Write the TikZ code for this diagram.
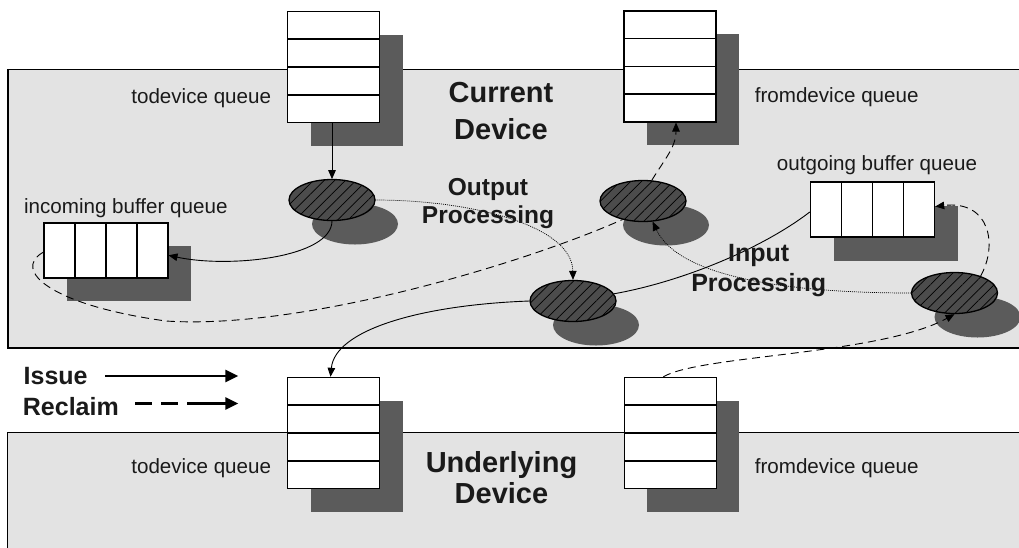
\documentclass[tikz,border=0pt]{standalone}
\usepackage{fontspec}
\setmainfont{Liberation Sans}
\usetikzlibrary{arrows.meta,shadows,patterns.meta,calc,shapes.geometric}
\definecolor{boxgray}{HTML}{E3E3E3}
\definecolor{shadowgray}{HTML}{5B5B5B}
\definecolor{ellgray}{HTML}{4C4C4C}
\definecolor{txt}{HTML}{1A1A1A}
\begin{document}
\begin{tikzpicture}[x=1pt,y=-1pt,
  devbox/.style={fill=boxgray, draw=black, line width=1.3pt},
  vqueue/.style={rectangle, draw, line width=1.4pt, fill=white,
    minimum width=92pt, minimum height=111pt, inner sep=0pt,
    general shadow={shadow xshift=23pt, shadow yshift=-23pt, fill=shadowgray},
    path picture={\foreach \f in {0.25,0.5,0.75}{\draw[line width=1.6pt]
      ($(path picture bounding box.north west)!\f!(path picture bounding box.south west)$) --
      ($(path picture bounding box.north east)!\f!(path picture bounding box.south east)$);}}},
  hqueue/.style={rectangle, draw, line width=1.4pt, fill=white,
    minimum width=124pt, minimum height=55pt, inner sep=0pt,
    general shadow={shadow xshift=23pt, shadow yshift=-23.5pt, fill=shadowgray},
    path picture={\foreach \f in {0.25,0.5,0.75}{\draw[line width=1.6pt]
      ($(path picture bounding box.north west)!\f!(path picture bounding box.north east)$) --
      ($(path picture bounding box.south west)!\f!(path picture bounding box.south east)$);}}},
  proc/.style={ellipse, draw, line width=1.3pt, minimum width=86pt, minimum height=41pt, inner sep=0pt,
    general shadow={shadow xshift=23pt, shadow yshift=-24pt, fill=shadowgray},
    preaction={fill=ellgray},
    pattern={Lines[angle=45,distance=7.5pt,line width=0.7pt]}, pattern color=black},
  lbl/.style={font=\fontsize{20.6}{24}\selectfont, text=txt, inner sep=0pt},
  conn/.style={line width=0.9pt, -{Triangle[length=9pt,width=7.5pt]}},
  reclaim/.style={conn, dash pattern=on 8pt off 5pt},
  dotline/.style={line width=0.7pt, dash pattern=on 1pt off 1pt, -{Triangle[length=9pt,width=7.5pt]}},
  plain/.style={line width=0.9pt},
  legline/.style={line width=2.5pt, -{Triangle[length=13pt,width=12pt]}}
]
\useasboundingbox (0,0) rectangle (1019,547);
\clip (0,0) rectangle (1019,547);

% device boxes
\path[devbox] (8,69.3) rectangle (1040,348);
\path[devbox] (7.5,432.7) rectangle (1040,570);

% queues
\node[vqueue] (tq1) at (333.5,67) {};
\node[vqueue] (fq1) at (670,66.3) {};
\node[vqueue] (tq2) at (333.5,433) {};
\node[vqueue] (fq2) at (670.3,433) {};
\node[hqueue] (inq) at (105.8,250.3) {};
\node[hqueue] (outq) at (872.5,209.5) {};

% processing ellipses
\node[proc] (e1) at (332,200) {};
\node[proc] (e2) at (643,201) {};
\node[proc] (e3) at (573,301) {};
\node[proc] (e4) at (954.5,293) {};

% connectors
\draw[conn] (tq1.south -| e1.north) -- (e1.north);
\draw[conn] (e1.south) .. controls +(0,37) and +(60,13) .. ([yshift=-5pt]inq.east);
\draw[dotline] (e1.east) .. controls (470,200) and (572,225) .. (e3.north);
\draw[plain] ([yshift=-2.5pt]outq.west) .. controls (760,250) and (680,282) .. (e3.10);
\draw[conn] (e3.west) .. controls (420,305) and (335,330) .. ([xshift=-3pt]tq2.north);
\draw[reclaim] (e2.67) .. controls +(12,-20) and +(0,25) .. ([xshift=6pt]fq1.south);
\draw[reclaim, -] ([yshift=-2pt]inq.west) .. controls (12,270) and (50,305) .. (166,321)
   .. controls (300,330) and (520,265) .. (e2.222);
\draw[dotline] (e4.west) .. controls (800,293) and (680,280) .. (e2.-65);
\draw[reclaim] (e4.33) .. controls (998,245) and (990,200) .. ([yshift=3pt]outq.east);
\draw[reclaim] ([xshift=-7pt]fq2.north) .. controls (700,355) and (880,355) .. (e4.south);

% labels
\node[lbl] (l1) at (201.2,98) {todevice queue};
\node[lbl] (l2) at (836.7,97.5) {fromdevice queue};
\node[lbl] (l3) at (201.2,468.5) {todevice queue};
\node[lbl] (l4) at (836.7,468) {fromdevice queue};
\node[lbl] (l5) at (125.8,208.5) {incoming buffer queue};
\node[lbl] (l6) at (877,165) {outgoing buffer queue};

\node[font=\bfseries\fontsize{29}{36.6}\selectfont, align=center, inner sep=0pt, text=txt] (cur) at (501,111.2) {Current\\Device};
\node[font=\bfseries\fontsize{29}{31}\selectfont, align=center, inner sep=0pt, text=txt] (und) at (501.5,477.2) {Underlying\\Device};
\node[font=\bfseries\fontsize{24.5}{28.3}\selectfont, align=center, inner sep=0pt, text=txt] (outp) at (488,203.3) {Output\\Processing};
\node[font=\bfseries\fontsize{25}{30.7}\selectfont, align=center, inner sep=0pt, text=txt] (inp) at (758.7,270.6) {Input\\Processing};

% legend
\node[font=\bfseries\fontsize{25}{30}\selectfont, anchor=base west, inner sep=0pt, text=txt] (iss) at (23.5,384) {Issue};
\node[font=\bfseries\fontsize{25}{30}\selectfont, anchor=base west, inner sep=0pt, text=txt] (rec) at (22.7,415) {Reclaim};
\coordinate (issA) at (105,376);
\coordinate (issB) at (238.3,376);
\coordinate (recA) at (135,403.5);
\coordinate (recB) at (238.3,403.5);
\draw[legline] (issA) -- (issB);
\draw[legline, dash pattern=on 16.5pt off 9.5pt on 16.5pt off 9.5pt on 80pt off 0pt] (recA) -- (recB);
\end{tikzpicture}
\end{document}
